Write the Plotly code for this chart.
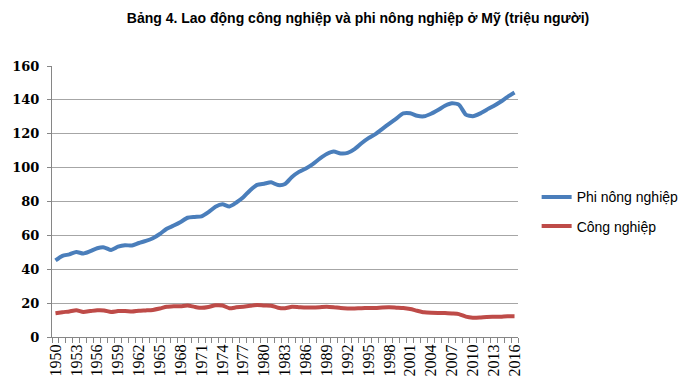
import plotly.graph_objects as go

years = list(range(1950, 2017))

phi_nong_nghiep = [
    45.2, 47.9, 48.8, 50.2, 49.3, 50.7, 52.4, 52.9, 51.4, 53.3,
    54.2, 54.0, 55.5, 56.7, 58.3, 60.8, 63.9, 65.8, 67.9, 70.4,
    70.9, 71.2, 73.7, 76.9, 78.4, 77.1, 79.4, 82.5, 86.7, 89.8,
    90.5, 91.3, 89.7, 90.3, 94.5, 97.5, 99.5, 102.1, 105.3, 108.0,
    109.5, 108.4, 108.7, 110.9, 114.4, 117.4, 119.8, 122.9, 126.0, 129.0,
    132.0, 132.1, 130.6, 130.3, 131.8, 134.0, 136.5, 138.0, 137.2, 131.3,
    130.4, 131.9, 134.2, 136.4, 138.9, 141.8, 144.3,
]

cong_nghiep = [
    14.0, 14.6, 15.1, 15.8, 14.8, 15.3, 15.8, 15.7, 14.8, 15.3,
    15.4, 15.0, 15.5, 15.7, 16.0, 16.8, 17.8, 18.1, 18.2, 18.6,
    17.8, 17.2, 17.7, 18.7, 18.6, 17.0, 17.5, 17.9, 18.4, 18.9,
    18.6, 18.5, 17.3, 17.0, 17.8, 17.6, 17.4, 17.4, 17.6, 17.9,
    17.6, 17.1, 16.9, 16.9, 17.0, 17.1, 17.1, 17.4, 17.5, 17.3,
    17.1, 16.5, 15.5, 14.6, 14.3, 14.2, 14.2, 13.9, 13.5, 12.0,
    11.4, 11.5, 11.8, 11.9, 12.0, 12.3, 12.3,
]

tick_years = list(range(1950, 2017, 3))
tick_labels = [str(y) for y in tick_years]

fig = go.Figure()
fig.add_trace(go.Scatter(
    x=years, y=phi_nong_nghiep, mode="lines", name="Phi nông nghiệp",
    legendgroup="a",
    line=dict(color="#4A7EBB", width=4, shape="spline", smoothing=0.6),
))
fig.add_trace(go.Scatter(
    x=years, y=cong_nghiep, mode="lines", name="Công nghiệp",
    legendgroup="b",
    line=dict(color="#BE4B48", width=4, shape="spline", smoothing=0.6),
))

fig.update_layout(
    width=700, height=383,
    margin=dict(l=44, r=190, t=58, b=54),
    paper_bgcolor="white", plot_bgcolor="white",
    title=dict(
        text="<b>Bảng 4. Lao động công nghiệp và phi nông nghiệp ở Mỹ (triệu người)</b>",
        x=0.5, xanchor="center", y=0.973, yanchor="middle",
        font=dict(family="Liberation Sans Narrow, Arial Narrow, Arial", size=14, color="#000000"),
    ),
    showlegend=True,
    legend=dict(
        x=1.04, xref="paper", y=0.462, yanchor="middle", xanchor="left",
        font=dict(family="Liberation Sans Narrow, Arial Narrow, Arial", size=14, color="#000000"),
        bgcolor="rgba(0,0,0,0)", tracegroupgap=8,
    ),
    xaxis=dict(
        range=[1949.5, 2016.5], automargin=False,
        tickmode="array", tickvals=tick_years, ticktext=tick_labels,
        tickangle=-90, ticks="", showgrid=False, zeroline=False,
        showline=True, linecolor="#868686", linewidth=1,
        tickfont=dict(family="Liberation Serif, Times New Roman", size=16, color="#000000"),
        minor=dict(ticks="outside", tick0=1949.5, dtick=1, ticklen=5, tickcolor="#868686", showgrid=False),
    ),
    yaxis=dict(
        range=[0, 160], dtick=20, showgrid=True, gridcolor="#A6A6A6", gridwidth=1,
        automargin=False,
        zeroline=False, showline=True, linecolor="#868686", linewidth=1,
        ticks="outside", ticklen=4, tickcolor="#868686", ticklabelstandoff=5,
        tickfont=dict(family="DejaVu Serif", size=13, color="#000000", weight="bold"),
    ),
)

fig.write_html("out.html")
